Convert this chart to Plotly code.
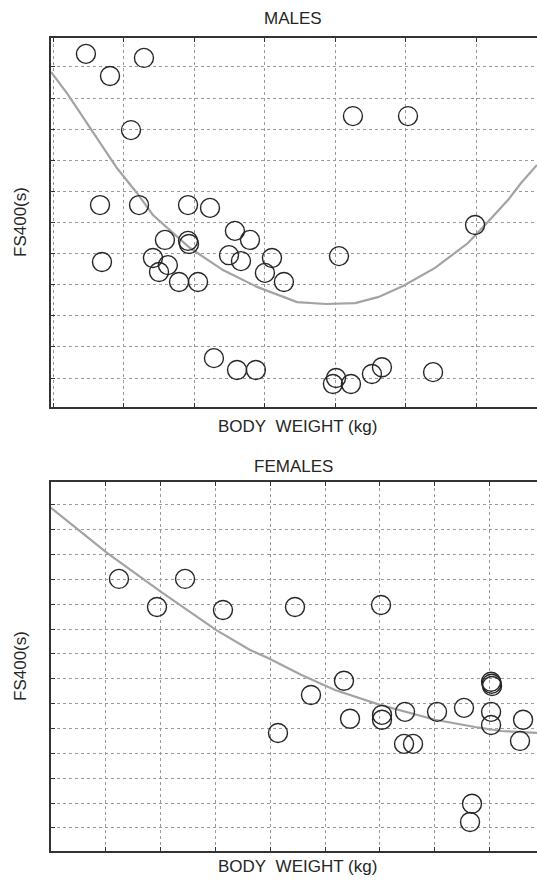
import plotly.graph_objects as go

# ---- Males: body weight vs FS400 ----
male_weight = [62.30, 66.42, 64.01, 65.50, 81.26, 85.17, 63.30, 66.07, 69.55, 71.11,
               89.93, 63.44, 67.91, 69.55, 69.62, 67.06, 68.12, 67.49, 68.91, 70.26,
               72.88, 73.95, 72.46, 73.31, 75.51, 75.01, 76.36, 80.27, 71.39, 73.03,
               74.37, 80.06, 79.84, 81.12, 82.61, 83.32, 86.95]
male_fs400 = [50.42, 50.29, 49.71, 47.97, 48.42, 48.42, 45.56, 45.56, 45.56, 45.47,
              44.92, 43.73, 44.44, 44.41, 44.31, 43.86, 43.63, 43.41, 43.09, 43.09,
              44.73, 44.44, 43.95, 43.76, 43.86, 43.38, 43.09, 43.92, 40.64, 40.26,
              40.26, 40.00, 39.81, 39.81, 40.13, 40.35, 40.19]

# fitted trend for males
male_fit_weight = [59.82, 60.95, 62.09, 63.30, 64.50, 65.92, 66.63, 67.06, 69.69, 72.03,
                   74.45, 77.29, 79.35, 81.41, 83.04, 84.82, 87.09, 89.43, 90.64, 92.27,
                   93.20, 94.33]
male_fit_fs400 = [49.84, 49.16, 48.39, 47.56, 46.75, 45.95, 45.50, 45.24, 44.18, 43.47,
                  42.93, 42.44, 42.38, 42.41, 42.60, 42.96, 43.54, 44.34, 44.92, 45.72,
                  46.27, 46.85]

# ---- Females: body weight vs FS400 ----
female_weight = [51.20, 54.67, 57.23, 60.69, 67.26, 75.11, 65.71, 68.72, 71.73, 72.28,
                 75.20, 75.20, 77.30, 77.21, 78.03, 80.22, 82.68, 85.15, 85.24, 85.20,
                 85.15, 85.15, 88.07, 87.79, 83.41, 83.23]
female_fs400 = [50.02, 48.89, 50.02, 48.77, 48.89, 48.97, 43.82, 45.35, 45.92, 44.39,
                44.55, 44.35, 44.67, 43.38, 43.38, 44.67, 44.83, 45.88, 45.71, 45.80,
                44.67, 44.14, 44.35, 43.50, 40.97, 40.24]

# fitted trend for females
female_fit_weight = [45.00, 50.11, 55.04, 60.05, 63.16, 64.80, 67.81, 70.91, 75.02, 80.04,
                     83.69, 86.06, 89.34]
female_fit_fs400 = [52.88, 51.07, 49.50, 47.97, 47.16, 46.84, 46.16, 45.55, 44.95, 44.35,
                    44.06, 43.90, 43.82]

W, H = 537, 882
ML = 51
FONT = "Liberation Sans, Arial, sans-serif"
INK = "#262626"
FIT = "#a3a3a3"

fig = go.Figure()

marker = dict(symbol="circle-open", size=19, color=INK, line=dict(width=1.4, color=INK))

fig.add_trace(go.Scatter(x=male_fit_weight, y=male_fit_fs400, mode="lines",
                         line=dict(color=FIT, width=2.2), xaxis="x", yaxis="y",
                         showlegend=False, hoverinfo="skip"))
fig.add_trace(go.Scatter(x=male_weight, y=male_fs400, mode="markers", marker=marker,
                         xaxis="x", yaxis="y", showlegend=False))

fig.add_trace(go.Scatter(x=female_fit_weight, y=female_fit_fs400, mode="lines",
                         line=dict(color=FIT, width=2.2), xaxis="x2", yaxis="y2",
                         showlegend=False, hoverinfo="skip"))
fig.add_trace(go.Scatter(x=female_weight, y=female_fs400, mode="markers", marker=marker,
                         xaxis="x2", yaxis="y2", showlegend=False))


def py_to_paper(py):
    return 1 - py / H


def px_to_paper(px):
    return (px - ML) / (W - ML)


common = dict(showgrid=True, gridcolor="#9a9a9a", griddash="3px,3px", gridwidth=1,
              zeroline=False, showline=True, linecolor="#333333", linewidth=1.5,
              ticks="inside", ticklen=4, tickcolor="#333333", showticklabels=False)

fig.update_layout(
    width=W, height=H,
    margin=dict(l=ML, r=0, t=0, b=0),
    paper_bgcolor="white", plot_bgcolor="white",
    font=dict(family=FONT, size=17, color=INK),
    xaxis=dict(domain=[0, 1], anchor="y", range=[59.82, 94.33], dtick=5, tick0=65,
               mirror="ticks", **common),
    yaxis=dict(domain=[py_to_paper(407), py_to_paper(38)], anchor="x",
               range=[39.07, 50.93], dtick=1, tick0=40, **common),
    xaxis2=dict(domain=[0, 1], anchor="y2", range=[45, 89.34], dtick=5, tick0=50,
                mirror="ticks", **common),
    yaxis2=dict(domain=[py_to_paper(851), py_to_paper(482)], anchor="x2",
                range=[39.07, 53.92], dtick=1, tick0=40, **common),
)

texts = [
    ("MALES", 293, 18, 0),
    ("BODY\u00a0\u00a0WEIGHT (kg)", 297, 426, 0),
    ("FS400(s)", 20, 222, -90),
    ("FEMALES", 293, 467, 0),
    ("BODY\u00a0\u00a0WEIGHT (kg)", 297, 866, 0),
    ("FS400(s)", 20, 666, -90),
]
for txt, px, py, ang in texts:
    fig.add_annotation(text=txt, x=px_to_paper(px), y=py_to_paper(py),
                       xref="paper", yref="paper", showarrow=False,
                       xanchor="center", yanchor="middle", textangle=ang,
                       font=dict(family=FONT, size=17, color=INK))

fig.write_html("out.html")
